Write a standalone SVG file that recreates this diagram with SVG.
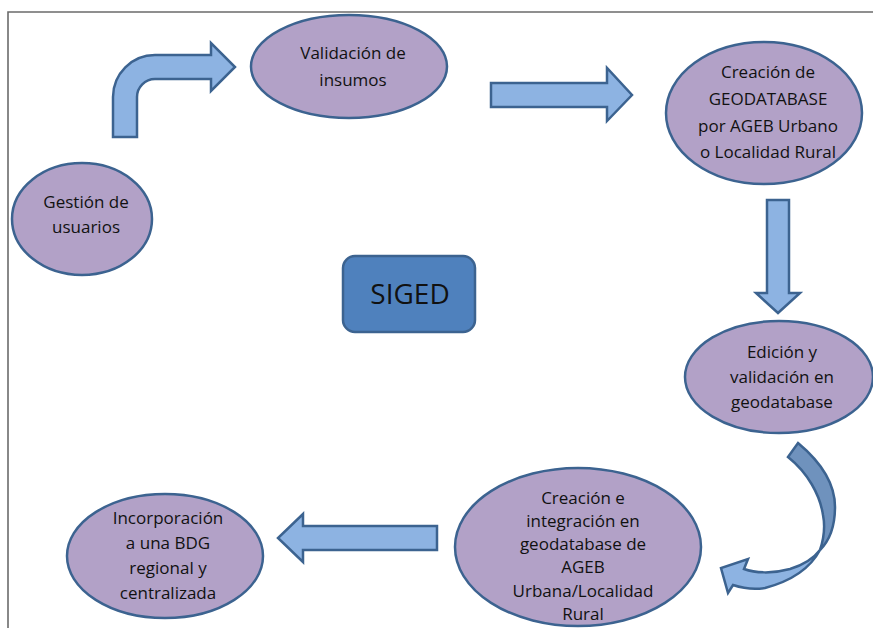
<svg xmlns="http://www.w3.org/2000/svg" width="873" height="628" viewBox="0 0 873 628">
<style>
.node{fill:#b2a1c7;stroke:#3c6390;stroke-width:2.5}
.arr{fill:#8db3e2;stroke:#3c6390;stroke-width:2.5;stroke-linejoin:miter}
.dark{fill:#6f92bd;stroke:#3c6390;stroke-width:2.5}
text{font-family:"Open Sans","Noto Sans",sans-serif;font-size:17px;fill:#111;text-anchor:middle}
</style>
<rect width="873" height="628" fill="#fff"/>
<path d="M8,628 L8,12 L873,12" fill="none" stroke="#6b6b6b" stroke-width="1.6"/>
<g id="connectors">
<path class="arr" d="M113,137 L113,97 A42,42 0 0 1 155,55 L211,55 L211,43 L235,67 L211,91 L211,79 L155,79 A18,18 0 0 0 137,97 L137,137 Z"/>
<path class="arr" d="M491,83 L607,83 L607,68 L632,95 L607,121 L607,107 L491,107 Z"/>
<path class="arr" d="M767,200 L789,200 L789,293 L800,293 L778,313 L756,293 L767,293 Z"/>
<path class="arr" d="M437,526 L303,526 L303,514 L278,538 L303,562 L303,550 L437,550 Z"/>
<path class="dark" d="M798,443 C822,463 835,485 835,507 C835,525 830,540 820,550 C824,538 825,525 823,515 C820,495 808,473 788,457 Z"/>
<path class="arr" d="M820,550 C812,565 795,580 765,588 C752,590 742,588 733,585 L728,593 L721,568 L748,559 L744,569 C755,573 772,574 790,569 C803,565 814,558 820,550 Z"/>
</g>
<g id="gestion">
<ellipse class="node" cx="82" cy="219" rx="70" ry="56"/>
<text x="86" y="208">Gestión de</text>
<text x="86" y="233">usuarios</text>
</g>
<g id="validacion">
<ellipse class="node" cx="349" cy="66.5" rx="98" ry="51.5"/>
<text x="353" y="59">Validación de</text>
<text x="353" y="86">insumos</text>
</g>
<g id="creacion-geodatabase">
<ellipse class="node" cx="764" cy="113" rx="98" ry="71"/>
<text x="768" y="78">Creación de</text>
<text x="768" y="105">GEODATABASE</text>
<text x="768" y="132">por AGEB Urbano</text>
<text x="768" y="158">o Localidad Rural</text>
</g>
<g id="edicion">
<ellipse class="node" cx="779" cy="377" rx="94" ry="56"/>
<text x="782" y="358">Edición y</text>
<text x="782" y="383">validación en</text>
<text x="782" y="408">geodatabase</text>
</g>
<g id="creacion-integracion">
<ellipse class="node" cx="578" cy="547" rx="123" ry="79"/>
<text x="583" y="504">Creación e</text>
<text x="583" y="527">integración en</text>
<text x="583" y="550">geodatabase de</text>
<text x="583" y="573">AGEB</text>
<text x="583" y="597">Urbana/Localidad</text>
<text x="583" y="620">Rural</text>
</g>
<g id="incorporacion">
<ellipse class="node" cx="165" cy="556" rx="98" ry="62"/>
<text x="168" y="524">Incorporación</text>
<text x="168" y="549">a una BDG</text>
<text x="168" y="574">regional y</text>
<text x="168" y="599">centralizada</text>
</g>
<g id="siged">
<rect x="343" y="256" width="132" height="76" rx="12" fill="#4f81bd" stroke="#3c6390" stroke-width="2.5"/>
<text x="410" y="304" style="font-size:28px">SIGED</text>
</g>
</svg>
